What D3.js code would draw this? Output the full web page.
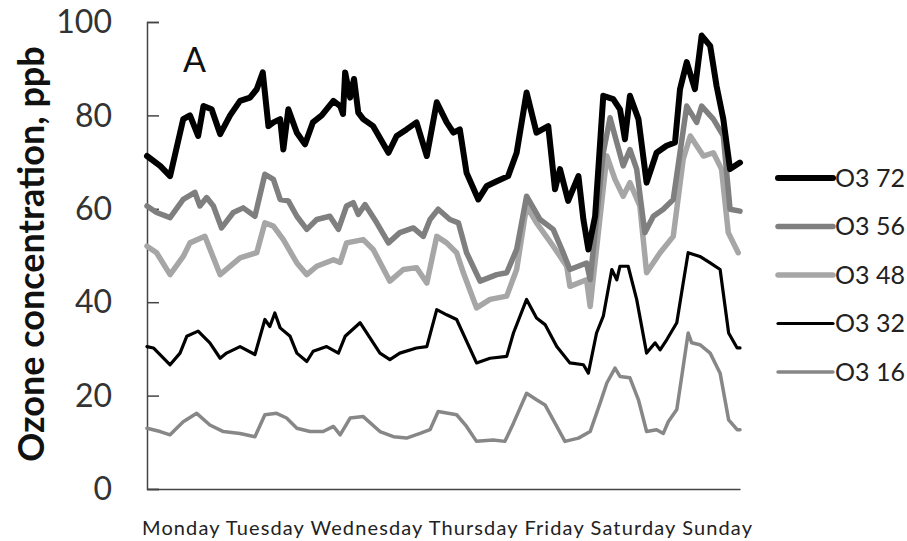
<!DOCTYPE html>
<html>
<head>
<meta charset="utf-8">
<script src="https://cdn.jsdelivr.net/npm/d3@7"></script>
<style>
  body { margin: 0; background: #fff; }
  svg { display: block; font-family: Lato, "Open Sans", sans-serif; }
</style>
</head>
<body>
<svg id="chart"></svg>
<script>
// day labels under the x axis
const dayLabels = ['Monday', 'Tuesday', 'Wednesday', 'Thursday', 'Friday', 'Saturday', 'Sunday']
const yTicks = [0, 20, 40, 60, 80, 100]

// [hour of week, ppb]
const o3_72 = [[0,71.3],[3.7,69.2],[6.5,67],[10.2,79.2],[12.1,80],[14.4,75.6],[15.9,82],[18.2,81.3],[20.6,76],[23.4,80],[26.2,83.1],[29,83.8],[30.9,85.6],[32.6,89.2],[34.2,77.7],[35.6,78.5],[37.5,79.2],[38.4,72.7],[39.8,81.3],[42.2,76.3],[44.5,73.8],[46.7,78.5],[49.2,80],[52.5,83.1],[54.4,82],[55.2,80.3],[55.8,89.2],[57.2,83.8],[58.3,87.8],[59.5,80.6],[60.9,79.2],[63.7,77.7],[68,72],[70.3,75.6],[73.1,77],[75.9,78.5],[78.8,71.3],[81.6,82.8],[84.4,78.5],[86.3,76.3],[88.1,77],[90,67.7],[93.3,62],[95.7,64.9],[98.5,65.9],[101.7,67],[104.1,72],[106.9,84.9],[109.7,76.3],[113,77.7],[114.9,64.2],[116.3,68.5],[118.6,61.7],[121.5,67],[122.9,57.7],[124.3,51.3],[126.2,58.4],[128.5,84.2],[131.3,83.5],[133.2,81.3],[134.6,74.9],[136,84.2],[138.4,79.2],[140.7,65.6],[143.5,72],[146.3,73.5],[148.7,74.2],[150.1,85.6],[152,91.4],[154.3,85.6],[156.2,97.1],[158.6,94.9],[160.4,86.3],[162.3,79.2],[164.2,68.5],[167,69.9]]

const o3_56 = [[0,60.6],[2.7,59.2],[6.5,58.1],[10.2,62],[13.5,63.5],[14.9,60.6],[16.8,62.4],[18.7,60.6],[21,55.9],[24.3,59.2],[27.1,60.2],[30.4,58.4],[33.2,67.4],[35.6,66.3],[37.5,62],[39.8,61.7],[42.2,58.4],[45,55.6],[47.8,57.7],[51.5,58.4],[53.9,55.6],[56.2,60.6],[58.1,61.3],[59.5,58.8],[61.4,60.9],[64.7,57],[68,52.7],[71.2,54.9],[75,55.9],[77.8,54.1],[79.7,57.7],[82,59.9],[85.3,57.7],[87.7,57],[90,50.6],[93.8,44.5],[98.5,45.9],[101.3,46.3],[104.1,51.3],[106.9,62.7],[110.7,57.7],[114.4,55.6],[117.2,50.6],[119.1,47],[123.8,48.4],[124.8,44.8],[128.5,72],[130.4,79.5],[132.3,74.2],[134.1,69.2],[136,72.7],[137.9,68.5],[140.2,54.9],[142.6,58.4],[145.4,59.9],[148.2,62],[150.1,72],[152,82],[154.8,78.5],[156.2,82],[159.5,79.2],[162.3,75.6],[164.2,59.9],[167,59.5]]

const o3_48 = [[0,52],[2.7,50.6],[6.5,45.9],[10.2,49.8],[12.1,52.7],[16.3,54.1],[20.6,45.9],[26.2,49.5],[30.9,50.6],[33.2,57],[35.6,56.3],[38.4,53.4],[42.2,48.4],[45,45.9],[47.8,47.7],[52.5,49.1],[54.4,48.5],[56.2,52.7],[60.9,53.4],[63.7,51.3],[68.4,44.5],[72.2,47],[75.9,47.4],[78.8,44.1],[81.6,54.1],[84.4,52.7],[87.2,50.6],[89.1,46.3],[92.8,38.8],[96.6,40.6],[101.3,41.3],[104.1,47],[106.9,60.6],[109.7,57],[114.4,52],[118.2,47.7],[119.1,43.4],[123.8,44.8],[124.8,39.1],[129.5,71.3],[131.8,66.3],[134.1,62.7],[136,65.6],[138.8,60.6],[140.7,46.3],[144.5,50.6],[148.2,54.1],[151,70.6],[153,75.6],[156.7,71.3],[159.5,72],[161.8,68.5],[163.7,54.9],[166.5,50.6]]

const o3_32 = [[0,30.5],[1.8,30.2],[6.5,26.6],[9.3,29.1],[11.2,32.7],[14.4,33.8],[17.7,31.3],[20.6,28],[22.4,29.1],[26.2,30.5],[30.4,28.8],[33.2,36.3],[34.6,34.8],[36,37.7],[37.5,34.5],[40.3,32.7],[42.2,29.1],[45,27.3],[46.8,29.5],[50.6,30.5],[53.9,29.1],[55.8,32.7],[60,35.6],[65.6,29.1],[68.4,27.7],[71.2,29.1],[75.9,30.2],[78.8,30.5],[81.6,38.4],[84.4,37.3],[87.2,36.3],[92.8,27],[96.6,28],[101.3,28.4],[103.2,33.4],[106.9,40.6],[109.7,36.6],[112.1,35.2],[115.4,30.5],[119.1,27],[122.9,26.6],[124.3,24.8],[126.6,33.4],[128.5,37],[130.9,47],[132.3,44.8],[133.2,47.7],[135.5,47.7],[137.9,40.6],[140.7,29.1],[143.1,31.3],[144.5,29.8],[146.4,32],[149.2,35.6],[151,44.1],[152.4,50.6],[155.7,49.8],[158.6,48.4],[161.4,47],[163.8,33.4],[166.2,30.2],[167,30.2]]

const o3_16 = [[0,13],[3.7,12.3],[6.5,11.6],[10.2,14.4],[14,16.2],[17.7,13.7],[21.5,12.3],[26.2,11.9],[30.4,11.2],[33.2,15.9],[36.5,16.2],[39.3,15.2],[42.2,13],[45.9,12.3],[49.6,12.3],[52.5,13.4],[54.4,11.6],[57.2,15.2],[60.9,15.5],[65.6,12.3],[69.4,11.2],[73.1,10.9],[76.9,11.9],[79.7,12.7],[82,16.6],[87.2,15.9],[90,13.4],[92.8,10.2],[97.5,10.5],[100.8,10.2],[103.2,14.1],[106.9,20.5],[109.7,19.1],[112.1,18],[114.4,14.8],[117.7,10.2],[121.5,10.9],[124.8,12.3],[127.6,18.4],[129.5,22.7],[131.8,25.9],[133.2,24.1],[136,23.8],[138.4,19.1],[140.7,12.3],[143.5,12.7],[145.4,11.9],[146.8,14.4],[149.2,17],[151,26.2],[152.4,33.4],[153.4,31.3],[155.7,30.9],[158.6,29.1],[161.4,24.8],[163.8,14.8],[166.2,12.7],[167,12.7]]

const seriesNames = ['O3 72', 'O3 56', 'O3 48', 'O3 32', 'O3 16']
const seriesData = [o3_72, o3_56, o3_48, o3_32, o3_16]
const seriesColors = ['#000000', '#7f7f7f', '#a6a6a6', '#000000', '#878787']
const seriesWidths = [6, 5.5, 5.5, 3.2, 3.5]

const width = 907
const height = 541
const plotLeft = 147, plotRight = 740, plotTop = 22, plotBottom = 489

const svg = d3.select('#chart')
  .attr('width', width)
  .attr('height', height)

const x = d3.scaleLinear().domain([0, 167]).range([plotLeft, plotRight])
const y = d3.scaleLinear().domain([0, 100]).range([plotBottom, plotTop])

// y axis, ticks point into the plot
const yAxis = svg.append('g')
  .attr('transform', 'translate(' + plotLeft + ',0)')
  .call(d3.axisRight(y).tickValues(yTicks).tickSize(12).tickFormat(''))
yAxis.select('.domain').attr('stroke', '#444').attr('stroke-width', 1.5)
yAxis.selectAll('.tick line').attr('stroke', '#444').attr('stroke-width', 1.5)

svg.append('g').selectAll('text')
  .data(yTicks)
  .enter()
  .append('text')
  .attr('x', 112)
  .attr('y', d => y(d))
  .attr('dy', '0.35em')
  .attr('text-anchor', 'end')
  .attr('font-size', 32)
  .attr('fill', '#333')
  .text(d => d)

// x axis line only
const xAxis = svg.append('g')
  .attr('transform', 'translate(0,' + plotBottom + ')')
  .call(d3.axisBottom(x).tickValues([]).tickSizeOuter(0))
xAxis.select('.domain').attr('stroke', '#444').attr('stroke-width', 1.5)

// day labels run together as one line of text
const dayText = svg.append('text')
  .attr('x', 142)
  .attr('y', 535)
  .attr('font-size', 20)
  .attr('fill', '#222')
  .attr('textLength', 610)
  .attr('lengthAdjust', 'spacing')
dayText.selectAll('tspan')
  .data(dayLabels)
  .enter()
  .append('tspan')
  .text((d, i) => (i > 0 ? ' ' : '') + d)

svg.append('text')
  .attr('transform', 'translate(44,254) rotate(-90)')
  .attr('text-anchor', 'middle')
  .attr('font-size', 36)
  .attr('font-weight', 'bold')
  .attr('fill', '#111')
  .text('Ozone concentration,  ppb')

svg.append('text')
  .attr('x', 183)
  .attr('y', 72)
  .attr('font-size', 34)
  .attr('fill', '#111')
  .text('A')

const line = d3.line()
  .x(d => x(d[0]))
  .y(d => y(d[1]))

// draw bottom series first so the thick black one sits on top
svg.append('g').selectAll('path')
  .data(d3.range(seriesData.length).reverse())
  .enter()
  .append('path')
  .attr('d', i => line(seriesData[i]))
  .attr('fill', 'none')
  .attr('stroke', i => seriesColors[i])
  .attr('stroke-width', i => seriesWidths[i])
  .attr('stroke-linejoin', 'round')
  .attr('stroke-linecap', 'round')

const legend = svg.append('g').selectAll('g')
  .data(seriesNames)
  .enter()
  .append('g')
  .attr('transform', (d, i) => 'translate(778,' + (178 + i * 48.5) + ')')
legend.append('line')
  .attr('x1', 0).attr('x2', 55)
  .attr('stroke', (d, i) => seriesColors[i])
  .attr('stroke-width', (d, i) => seriesWidths[i])
  .attr('stroke-linecap', 'round')
legend.append('text')
  .attr('x', 57)
  .attr('dy', '0.35em')
  .attr('font-size', 25)
  .attr('fill', '#222')
  .text(d => d)
</script>
</body>
</html>
